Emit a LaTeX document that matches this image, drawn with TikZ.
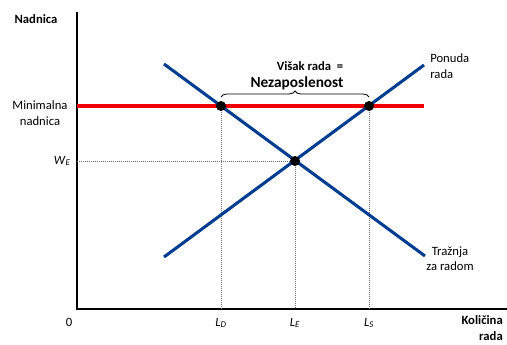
\documentclass[tikz,border=0pt]{standalone}
\usepackage{fontspec}
\setmainfont{Carlito}
\usepackage{xcolor}
\usetikzlibrary{decorations.pathreplacing,positioning}
\definecolor{curveblue}{RGB}{0,61,145}
\definecolor{minred}{RGB}{240,0,0}
\definecolor{guidegray}{RGB}{110,110,110}

\begin{document}
\begin{tikzpicture}[
  x=0.75pt,y=-0.75pt,
  font=\fontsize{9.5}{11.5}\selectfont,
  lbl/.style={inner sep=0pt,align=center},
  axis/.style={draw=black,line width=1.1pt},
  curve/.style={draw=curveblue,line width=2.3pt},
  minwage/.style={draw=minred,line width=2.6pt},
  guide/.style={draw=guidegray,densely dotted,line width=0.5pt},
  pt/.style={circle,fill=black,inner sep=0pt,minimum size=7.5pt},
  brc/.style={draw=black,line width=0.6pt,decorate,decoration={brace,amplitude=4.5pt}}
]
\useasboundingbox (0,0) rectangle (507,344);

% axes
\coordinate (o) at (77,309);
\coordinate (ytop) at (77,12);
\coordinate (xend) at (507,309);
\draw[axis] (ytop) -- (o) -- (xend);

% curve end points
\coordinate (d1) at (164,64);
\coordinate (d2) at (425,256);
\coordinate (s1) at (164,257);
\coordinate (s2) at (424,65);
\coordinate (m1) at (77,106);
\coordinate (m2) at (424,106);
\coordinate (ldc) at (221,106);
\coordinate (lsc) at (369,106);
\coordinate (eqc) at (295,161);

% guides
\coordinate (we) at (77,161);
\draw[guide] (we) -- (eqc);
\draw[guide] (ldc) -- (ldc |- o);
\draw[guide] (eqc) -- (eqc |- o);
\draw[guide] (lsc) -- (lsc |- o);

\draw[minwage] (m1) -- (m2);
\draw[curve] (d1) -- (d2);
\draw[curve] (s1) -- (s2);

% points
\node[pt] (ld) at (ldc) {};
\node[pt] (ls) at (lsc) {};
\node[pt] (eq) at (eqc) {};

% brace
\coordinate (b1) at (221,97);
\coordinate (b2) at (369,97);
\draw[brc] (b1) -- (b2);

% labels
\node[lbl,font=\fontsize{9.5}{11.5}\selectfont\bfseries] (nad) at (36,19) {Nadnica};
\node[lbl] (minn) at (40,113) {Minimalna\\nadnica};
\node[lbl,anchor=east] (wel) at (71,161) {\textit{W}\textsubscript{\textit{E}}};
\node[lbl] (zero) at (69,322) {0};
\node[lbl] (ldl) at (221,323) {\textit{L}\textsubscript{\textit{D}}};
\node[lbl] (lel) at (295,323) {\textit{L}\textsubscript{\textit{E}}};
\node[lbl] (lsl) at (369,323) {\textit{L}\textsubscript{\textit{S}}};
\node[lbl,align=left,anchor=west] (pon) at (430,66) {Ponuda\\rada};
\node[lbl] (tra) at (450,259) {Tražnja\\za radom};
\node[lbl,align=right,anchor=east,font=\fontsize{9.5}{11.5}\selectfont\bfseries] (kol) at (503,328) {Količina\\rada};
\node[lbl,font=\fontsize{9.5}{11.5}\selectfont\bfseries] (vis) at (310,66) {Višak rada\ \ =};
\node[lbl,font=\fontsize{11.5}{13}\selectfont\bfseries] (nez) at (297,83) {Nezaposlenost};
\end{tikzpicture}
\end{document}
